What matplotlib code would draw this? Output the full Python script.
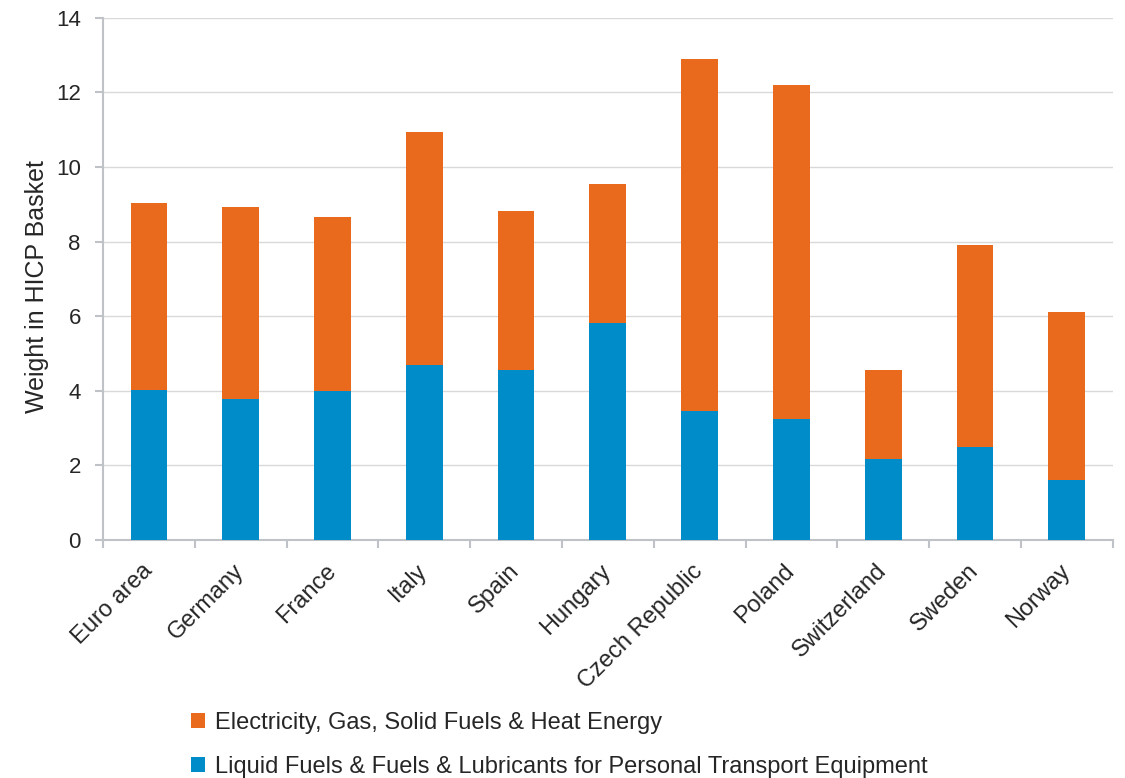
import matplotlib.pyplot as plt
import numpy as np

plt.rcParams['font.family'] = ['Liberation Sans', 'DejaVu Sans']

countries = ['Euro area', 'Germany', 'France', 'Italy', 'Spain', 'Hungary',
             'Czech Republic', 'Poland', 'Switzerland', 'Sweden', 'Norway']
liquid_fuels = [4.02, 3.78, 4.00, 4.69, 4.56, 5.82, 3.46, 3.24, 2.17, 2.49, 1.61]
total_weight = [9.04, 8.94, 8.66, 10.94, 8.82, 9.55, 12.90, 12.20, 4.56, 7.90, 6.11]
elec_gas = [t - l for t, l in zip(total_weight, liquid_fuels)]

orange = '#E96A1C'
blue = '#008BC9'
text_col = '#262626'
axis_col = '#BFC3C8'

fig = plt.figure(figsize=(11.25, 7.78), dpi=100)
ax = fig.add_axes([0.0916, 0.306, 0.8974, 0.671])

x = np.arange(len(countries))
b1 = ax.bar(x, liquid_fuels, width=0.4, color=blue, zorder=3)
b2 = ax.bar(x, elec_gas, width=0.4, bottom=liquid_fuels, color=orange, zorder=3)

ax.set_xlim(-0.5, len(countries) - 0.5)
ax.set_ylim(0, 14)
ax.set_yticks(range(0, 15, 2))
ax.yaxis.grid(True, color='#D9D9D9', linewidth=1, zorder=0)

ax.set_xticks(x)
ax.set_xticklabels(countries, rotation=45, ha='right', va='center',
                   rotation_mode='anchor', fontsize=17, color=text_col)
ax.tick_params(axis='x', which='major', length=0, pad=20)
ax.set_xticks(np.arange(-0.5, len(countries), 1), minor=True)
ax.tick_params(axis='x', which='minor', length=6, color=axis_col, width=1.5)
ax.tick_params(axis='y', length=6, color=axis_col, width=1.5, labelsize=16,
               labelcolor=text_col, pad=10)

for side in ['top', 'right']:
    ax.spines[side].set_visible(False)
for side in ['left', 'bottom']:
    ax.spines[side].set_color(axis_col)
    ax.spines[side].set_linewidth(1.5)

ax.set_ylabel('Weight in HICP Basket', fontsize=18, color=text_col)
ax.yaxis.set_label_coords(-0.054, 0.485)

fig.legend([b2, b1],
           ['Electricity, Gas, Solid Fuels & Heat Energy',
            'Liquid Fuels & Fuels & Lubricants for Personal Transport Equipment'],
           loc='upper left', bbox_to_anchor=(0.170, 0.085), frameon=False,
           fontsize=17, handlelength=0.6, handleheight=0.6, handletextpad=0.4,
           labelspacing=0.95, labelcolor=text_col, borderpad=0, borderaxespad=0)

fig.savefig('out.png', dpi=100)
